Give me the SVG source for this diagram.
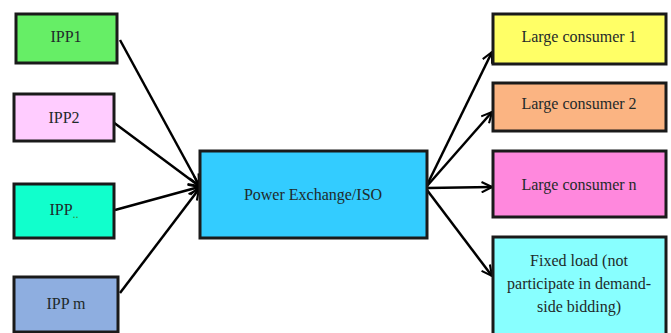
<svg xmlns="http://www.w3.org/2000/svg" width="671" height="333" viewBox="0 0 671 333" font-family="Liberation Serif, DejaVu Serif, serif">
<style>
.box{stroke:#1a1a1a;stroke-width:3}
.t{font-size:16px;fill:#1f2a2a;text-anchor:middle}
.c{stroke:#000;stroke-width:2.5;fill:none;marker-end:url(#ah)}
</style>
<defs>
<marker id="ah" viewBox="0 0 12 12" refX="11" refY="6" markerWidth="5" markerHeight="5" orient="auto" markerUnits="strokeWidth">
<path d="M1,1 L11,6 L1,11" fill="none" stroke="#000" stroke-width="2"/>
</marker>
</defs>
<rect width="671" height="333" fill="#fff"/>
<g id="connectors">
<line class="c" x1="120" y1="40" x2="199" y2="185"/>
<line class="c" x1="113" y1="122" x2="199" y2="186"/>
<line class="c" x1="115" y1="210" x2="199" y2="187"/>
<line class="c" x1="120" y1="293" x2="199" y2="189"/>
<line class="c" x1="427" y1="185" x2="492" y2="52"/>
<line class="c" x1="427" y1="186" x2="492" y2="112"/>
<line class="c" x1="427" y1="188" x2="492" y2="187"/>
<line class="c" x1="427" y1="190" x2="492" y2="276"/>
</g>
<g id="ipp1"><rect class="box" x="16" y="14" width="101" height="49" fill="#66ee66"/><text class="t" x="66" y="42">IPP1</text></g>
<g id="ipp2"><rect class="box" x="14" y="94" width="100" height="47" fill="#ffccff"/><text class="t" x="64" y="123">IPP2</text></g>
<g id="ippdots"><rect class="box" x="14" y="184" width="100" height="54" fill="#11ffcc"/><text class="t" x="64" y="215">IPP<tspan font-size="12" dy="3" fill="#338833">..</tspan></text></g>
<g id="ippm"><rect class="box" x="14" y="277" width="104" height="55" fill="#8eaee0"/><text class="t" x="66" y="309">IPP m</text></g>
<g id="iso"><rect class="box" x="200" y="151" width="227" height="87" fill="#33ccff"/><text class="t" x="313" y="200">Power Exchange/ISO</text></g>
<g id="lc1"><rect class="box" x="493" y="14" width="173" height="50" fill="#ffff66"/><text class="t" x="579" y="42">Large consumer 1</text></g>
<g id="lc2"><rect class="box" x="493" y="83" width="173" height="48" fill="#fbb482"/><text class="t" x="579" y="109">Large consumer 2</text></g>
<g id="lcn"><rect class="box" x="493" y="151" width="173" height="66" fill="#ff88dd"/><text class="t" x="579" y="190">Large consumer n</text></g>
<g id="fixed"><rect class="box" x="493" y="237" width="173" height="100" fill="#88ffff"/><text class="t" x="579" y="266">Fixed load (not</text><text class="t" x="579" y="289">participate in demand-</text><text class="t" x="579" y="312">side bidding)</text></g>
</svg>
